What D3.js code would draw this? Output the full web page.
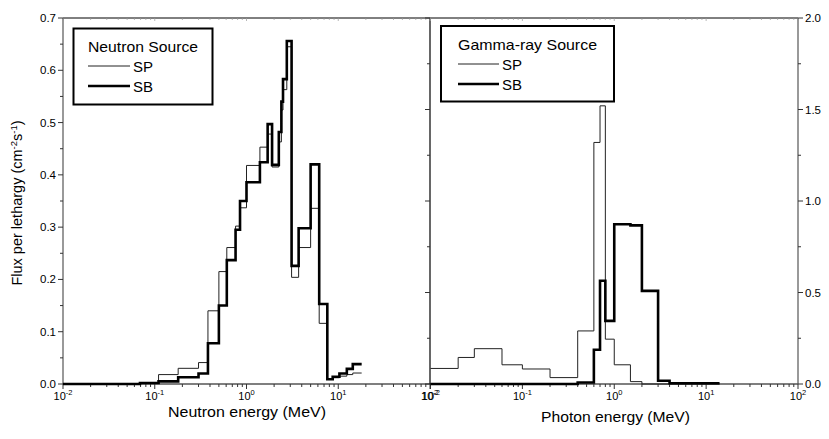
<!DOCTYPE html>
<html><head><meta charset="utf-8">
<script src="https://cdn.jsdelivr.net/npm/d3@7"></script>
<style>body{margin:0;background:#fff} text{font-family:Arial,"Liberation Sans",sans-serif;fill:#000}</style>
</head><body><svg id="c" width="829" height="439"></svg>
<script>
// ---- data ----
const neutronEdges = [0.01, 0.069, 0.11, 0.18, 0.3, 0.38, 0.5, 0.61, 0.76, 0.85, 1.0, 1.4, 1.7, 1.9, 2.25, 2.4, 2.5, 2.75, 3.1, 3.7, 5.0, 6.2, 7.6, 8.7, 10.3, 12.4, 14.4, 18.0];
const neutronSP = [0, 0.002, 0.018, 0.03, 0.041, 0.14, 0.215, 0.261, 0.302, 0.337, 0.418, 0.453, 0.478, 0.415, 0.463, 0.524, 0.563, 0.645, 0.204, 0.261, 0.336, 0.116, 0.009, 0.012, 0.015, 0.018, 0.021];
const neutronSB = [0, 0.002, 0.005, 0.013, 0.02, 0.078, 0.15, 0.237, 0.295, 0.35, 0.386, 0.424, 0.497, 0.419, 0.482, 0.54, 0.583, 0.656, 0.226, 0.298, 0.42, 0.153, 0.009, 0.014, 0.02, 0.029, 0.038];
const gammaEdges = [0.01, 0.02, 0.03, 0.06, 0.1, 0.2, 0.4, 0.6, 0.7, 0.8, 1.0, 1.5, 2, 3, 4, 14];
const gammaSP = [0.085, 0.145, 0.193, 0.105, 0.082, 0.035, 0.29, 1.32, 1.52, 0.245, 0.105, 0.013, 0, 0, 0];
const gammaSB = [0, 0, 0, 0, 0, 0, 0.008, 0.187, 0.564, 0.345, 0.873, 0.867, 0.509, 0.018, 0.004];
const decadeExponents = [-2, -1, 0, 1, 2];
const leftYTicks = [0, 0.1, 0.2, 0.3, 0.4, 0.5, 0.6, 0.7];
const rightYTicks = [0, 0.5, 1.0, 1.5, 2.0];
const seriesNames = ["SP", "SB"];
const panelTitles = ["Neutron Source", "Gamma-ray Source"];
const xTitles = ["Neutron energy (MeV)", "Photon energy (MeV)"];

// ---- layout ----
const svg = d3.select("#c");
const yTop = 18, yBot = 384;
const xL = d3.scaleLog().domain([0.01, 100]).range([63, 430]);
const xR = d3.scaleLog().domain([0.01, 100]).range([430.5, 798]);
const yL = d3.scaleLinear().domain([0, 0.7]).range([yBot, yTop]);
const yR = d3.scaleLinear().domain([0, 2.0]).range([yBot, yTop]);

const fmt = v => v.toFixed(1);
const axisCol = "#333";

function logTickVals() {
  const v = [];
  for (let e = -2; e < 2; e++) for (let m = 1; m < 10; m++) v.push(m * Math.pow(10, e));
  v.push(100);
  return v;
}

function drawXAxis(x) {
  const g = svg.append("g");
  logTickVals().forEach(t => {
    const major = Math.abs(Math.log10(t) - Math.round(Math.log10(t))) < 1e-9;
    g.append("line").attr("x1", x(t)).attr("x2", x(t))
      .attr("y1", yBot).attr("y2", yBot + (major ? 5 : 3))
      .attr("stroke", axisCol).attr("stroke-width", 1);
    g.append("line").attr("x1", x(t)).attr("x2", x(t))
      .attr("y1", yTop).attr("y2", yTop + (major ? 3 : 2))
      .attr("stroke", "#999").attr("stroke-width", 0.7);
  });
  decadeExponents.forEach(e => {
    const t = g.append("text").attr("x", x(Math.pow(10, e))).attr("y", 400)
      .attr("text-anchor", "middle").attr("font-size", 11);
    t.append("tspan").text("10");
    t.append("tspan").attr("font-size", 7.5).attr("dy", -5).text(String(e));
  });
}

function drawY(y, xpos, ticks, minorStep, dir, labels) {
  const g = svg.append("g");
  const max = y.domain()[1];
  for (let v = 0; v <= max + 1e-9; v += minorStep) {
    const major = ticks.some(t => Math.abs(t - v) < 1e-9);
    g.append("line").attr("x1", xpos).attr("x2", xpos + dir * (major ? 5 : 3))
      .attr("y1", y(v)).attr("y2", y(v)).attr("stroke", axisCol);
  }
  if (labels) ticks.forEach(t => {
    g.append("text").attr("x", xpos + dir * 7).attr("y", y(t) + 4)
      .attr("text-anchor", dir < 0 ? "end" : "start").attr("font-size", 11.5).text(fmt(t));
  });
}

// frame
svg.append("line").attr("x1", 63).attr("x2", 798).attr("y1", yTop).attr("y2", yTop).attr("stroke", "#000").attr("stroke-width", 1);
svg.append("line").attr("x1", 63).attr("x2", 798).attr("y1", yBot).attr("y2", yBot).attr("stroke", "#000").attr("stroke-width", 1.2);
[63, 430, 798].forEach(xp => svg.append("line").attr("x1", xp).attr("x2", xp).attr("y1", yTop).attr("y2", yBot).attr("stroke", xp === 430 ? "#000" : "#555").attr("stroke-width", 1.2));

drawXAxis(xL);
drawXAxis(xR);
drawY(yL, 63, leftYTicks, 0.05, -1, true);
drawY(yR, 798, rightYTicks, 0.25, 1, true);
drawY(yR, 430, rightYTicks, 0.25, -1, false);

// step lines
function stepLine(x, y, edges, vals) {
  const pts = edges.map((e, i) => [e, vals[Math.min(i, vals.length - 1)]]);
  return d3.line().x(d => x(d[0])).y(d => y(d[1])).curve(d3.curveStepAfter)(pts);
}
const styles = [{w: 1, c: "#222"}, {w: 2.6, c: "#000"}];
[[neutronSP, neutronSB, xL, yL, neutronEdges], [gammaSP, gammaSB, xR, yR, gammaEdges]].forEach(([sp, sb, x, y, edges]) => {
  [sp, sb].forEach((vals, k) => {
    svg.append("path").attr("d", stepLine(x, y, edges, vals))
      .attr("fill", "none").attr("stroke", styles[k].c).attr("stroke-width", styles[k].w)
      .attr("stroke-linejoin", "miter");
  });
});

// legends
const legends = [
  {x0: 73.5, y0: 28.5, w: 139, h: 76, tx: 88, lx1: 88, lx2: 130, ty: 52, tw: 110},
  {x0: 441, y0: 26, w: 173, h: 75.5, tx: 458, lx1: 458, lx2: 499, ty: 50, tw: 139}
];
legends.forEach((L, i) => {
  svg.append("rect").attr("x", L.x0).attr("y", L.y0).attr("width", L.w).attr("height", L.h)
    .attr("fill", "#fff").attr("stroke", "#000").attr("stroke-width", 2);
  svg.append("text").attr("x", L.tx).attr("y", L.ty).attr("font-size", 15)
    .attr("textLength", L.tw).attr("lengthAdjust", "spacingAndGlyphs").text(panelTitles[i]);
  seriesNames.forEach((s, k) => {
    const yy = L.ty + 14 + k * 20;
    svg.append("line").attr("x1", L.lx1).attr("x2", L.lx2).attr("y1", yy).attr("y2", yy)
      .attr("stroke", styles[k].c).attr("stroke-width", styles[k].w);
    svg.append("text").attr("x", L.lx2 + 3).attr("y", yy + 6).attr("font-size", 15).text(s);
  });
});

// axis titles
svg.append("text").attr("x", 168).attr("y", 417).attr("font-size", 15)
  .attr("textLength", 158).attr("lengthAdjust", "spacingAndGlyphs").text(xTitles[0]);
svg.append("text").attr("x", 541).attr("y", 422).attr("font-size", 15)
  .attr("textLength", 149).attr("lengthAdjust", "spacingAndGlyphs").text(xTitles[1]);
const yt = svg.append("text").attr("transform", "translate(22,203) rotate(-90)").attr("text-anchor", "middle").attr("font-size", 14.5);
yt.append("tspan").text("Flux per lethargy (cm");
yt.append("tspan").attr("font-size", 9.5).attr("dy", -5).text("-2");
yt.append("tspan").attr("dy", 5).text("s");
yt.append("tspan").attr("font-size", 9.5).attr("dy", -5).text("-1");
yt.append("tspan").attr("dy", 5).text(")");
</script></body></html>
